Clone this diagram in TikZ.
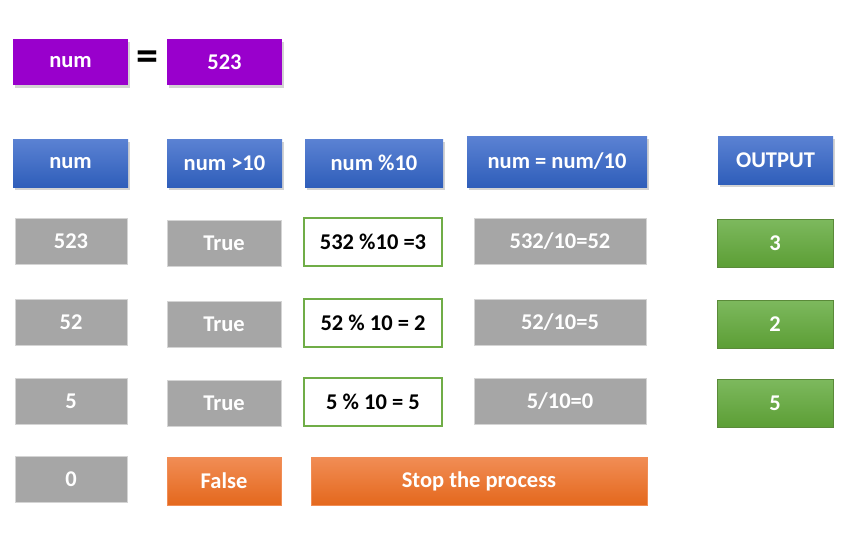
\documentclass[tikz,border=0pt]{standalone}
\usepackage{fontspec}
\setmainfont{Carlito}
\usetikzlibrary{calc,shadows}

\definecolor{numpurple}{HTML}{9900CC}
\definecolor{headtop}{HTML}{5B82D3}
\definecolor{headbot}{HTML}{2F5EBA}
\definecolor{cellgray}{HTML}{A6A6A6}
\definecolor{cellrim}{HTML}{D4D4D4}
\definecolor{modgreen}{HTML}{70AD47}
\definecolor{outtop}{HTML}{7DB95E}
\definecolor{outbot}{HTML}{5C9E35}
\definecolor{stoptop}{HTML}{F18D55}
\definecolor{stopbot}{HTML}{E4681D}

\begin{document}
\begin{tikzpicture}[x=1pt,y=-1pt,inner sep=0pt,outer sep=0pt,
    every node/.style={font=\fontsize{22.5}{26}\selectfont\bfseries},
    purplebox/.style={anchor=north west,fill=numpurple,text=white,minimum height=46pt,
        drop shadow={shadow xshift=2pt,shadow yshift=-3pt,opacity=0.35}},
    headbox/.style={anchor=north west,top color=headtop,bottom color=headbot,text=white,
        drop shadow={shadow xshift=2pt,shadow yshift=-3pt,opacity=0.35}},
    graybox/.style={anchor=north west,fill=cellgray,draw=cellrim,line width=0.8pt,text=white,minimum height=46pt},
    modbox/.style={anchor=north west,fill=white,draw=modgreen,line width=1.2pt,text=black,minimum height=48pt,minimum width=138pt},
    outbox/.style={anchor=north west,top color=outtop,bottom color=outbot,draw=modgreen!80!black,line width=0.4pt,
        text=white,minimum width=116pt,minimum height=48pt},
    stopbox/.style={anchor=north west,top color=stoptop,bottom color=stopbot,draw=stoptop,line width=0.4pt,
        text=white,minimum height=48pt}]
    \useasboundingbox (0,0) rectangle (856,554);

    % num = 523
    \node[purplebox,minimum width=115pt] (num_lbl) at (13,39) {num};
    \node[purplebox,minimum width=115pt] (num_val) at (167,39) {523};
    \node[font=\fontsize{44}{44}\selectfont\bfseries] (num_eq) at ($(num_lbl.east)!0.5!(num_val.west)+(0,-1)$) {=};

    % column heads
    \node[headbox,minimum width=115pt,minimum height=48pt] (head_num) at (13,139) {num};
    \node[headbox,minimum width=115pt,minimum height=48pt] (head_cmp) at (167,139) {num >10};
    \node[headbox,minimum width=138pt,minimum height=48pt] (head_mod) at (305,139) {num \%10};
    \node[headbox,minimum width=180pt,minimum height=51pt] (head_div) at (467,136) {num = num/10};
    \node[headbox,minimum width=115pt,minimum height=48pt] (head_out) at (718,136) {OUTPUT};

    % row 523
    \node[graybox,minimum width=112pt] (val_a) at (15,218) {523};
    \node[graybox,minimum width=114pt] (cmp_a) at (167,220) {True};
    \node[modbox] (mod_a) at (304,218) {532 \%10 =3};
    \node[graybox,minimum width=172pt] (div_a) at (474,218) {532/10=52};
    \node[outbox] (out_a) at (717,219) {3};

    % row 52
    \node[graybox,minimum width=112pt] (val_b) at (15,299) {52};
    \node[graybox,minimum width=114pt] (cmp_b) at (167,301) {True};
    \node[modbox] (mod_b) at (304,299) {52 \% 10 = 2};
    \node[graybox,minimum width=172pt] (div_b) at (474,299) {52/10=5};
    \node[outbox] (out_b) at (717,300) {2};

    % row 5
    \node[graybox,minimum width=112pt] (val_c) at (15,378) {5};
    \node[graybox,minimum width=114pt] (cmp_c) at (167,380) {True};
    \node[modbox] (mod_c) at (304,378) {5 \% 10 = 5};
    \node[graybox,minimum width=172pt] (div_c) at (474,378) {5/10=0};
    \node[outbox] (out_c) at (717,379) {5};

    % row 0
    \node[graybox,minimum width=112pt] (val_d) at (15,456) {0};
    \node[stopbox,minimum width=114pt] (cmp_d) at (167,457) {False};
    \node[stopbox,minimum width=336pt] (stop) at (311,457) {Stop the process};

\end{tikzpicture}
\end{document}
